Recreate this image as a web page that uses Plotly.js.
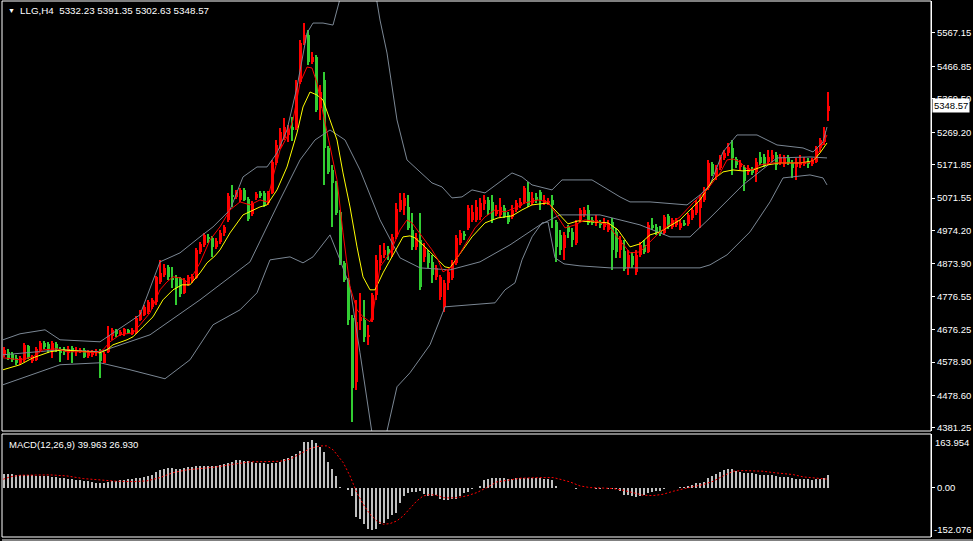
<!DOCTYPE html>
<html><head><meta charset="utf-8">
<script src="https://cdn.plot.ly/plotly-3.0.1.min.js"></script>
<style>html,body{margin:0;padding:0;background:#000;overflow:hidden}#chart{width:973px;height:541px}</style>
</head><body><div id="chart"></div>
<script>
// ---- candle data (LLG, H4) ----
const open=[4601,4610,4604,4592,4577,4586,4628,4583,4586,4616,
4637,4634,4613,4634,4619,4616,4607,4622,4610,4610,
4616,4598,4601,4607,4607,4577,4610,4658,4676,4661,
4664,4676,4664,4667,4706,4721,4730,4745,4760,4820,
4841,4865,4832,4835,4832,4787,4814,4823,4832,4910,
4931,4955,4952,4925,4940,4967,5006,5081,5075,5066,
5096,5069,5024,5072,5087,5087,5057,5087,5177,5225,
5252,5261,5285,5282,5420,5537,5561,5480,5495,5342,
5426,5222,5156,5117,5030,4877,4826,4712,4520,4703,
4706,4655,4706,4781,4877,4901,4919,4916,4955,5036,
5048,5045,4976,4925,4946,4895,4907,4880,4835,4775,
4745,4817,4832,4877,4937,4964,4982,5006,5006,5015,
5054,5066,5060,5024,5021,5042,5021,5015,5036,5048,
5060,5090,5057,5075,5090,5057,5057,5066,5000,4961,
4922,4985,4970,4937,5006,5021,5036,5006,4997,5000,
4985,4976,5000,4970,4916,4913,4862,4898,4850,4901,
4931,4910,4991,4985,4976,4967,5018,4985,4991,4982,
4997,4994,5012,5027,5042,5066,5102,5174,5135,5162,
5192,5207,5222,5189,5165,5162,5150,5156,5150,5195,
5195,5180,5189,5201,5177,5174,5192,5177,5165,5171,
5174,5183,5174,5180,5222,5240,5332.23];
const high=[4625,4619,4610,4601,4598,4637,4631,4601,4625,4643,
4643,4640,4643,4640,4625,4625,4628,4628,4625,4622,
4622,4616,4616,4619,4619,4610,4688,4682,4679,4676,
4682,4679,4682,4718,4736,4751,4766,4772,4838,4886,
4874,4871,4865,4841,4835,4832,4841,4844,4922,4940,
4967,4964,4958,4952,4976,4991,5087,5111,5096,5102,
5102,5075,5063,5090,5093,5093,5093,5186,5246,5282,
5312,5291,5315,5426,5546,5597,5576,5510,5501,5411,
5450,5228,5171,5123,5036,4883,4832,4721,4766,4787,
4766,4691,4787,4901,4931,4937,4928,4964,5057,5087,
5087,5081,5027,4967,5027,4937,4916,4901,4871,4841,
4826,4856,4886,4961,4976,4973,5051,5051,5066,5072,
5081,5075,5081,5051,5072,5051,5030,5051,5066,5072,
5108,5120,5090,5087,5096,5081,5072,5081,5006,4976,
4970,4991,4982,5006,5042,5045,5051,5015,5021,5006,
5012,5006,5012,4982,4958,4946,4916,4910,4916,4940,
4946,5000,5012,4994,4988,5021,5024,5012,5012,5006,
5006,5027,5042,5066,5081,5105,5186,5180,5171,5201,
5216,5237,5246,5195,5186,5171,5171,5165,5192,5210,
5204,5216,5216,5210,5204,5201,5201,5186,5192,5201,
5195,5192,5192,5228,5252,5285,5391.35];
const low=[4595,4586,4580,4571,4571,4580,4589,4577,4583,4610,
4619,4607,4592,4610,4580,4601,4586,4577,4598,4607,
4592,4592,4595,4598,4532,4577,4607,4646,4655,4658,
4658,4664,4661,4664,4703,4718,4724,4739,4751,4814,
4835,4826,4802,4751,4775,4784,4808,4817,4829,4904,
4925,4937,4895,4919,4934,4958,5000,5045,5069,5060,
5063,5003,5018,5066,5072,5045,5051,5084,5171,5219,
5246,5240,5243,5276,5414,5531,5471,5474,5330,5306,
5111,5144,4985,5021,4871,4820,4691,4400,4496,4676,
4640,4631,4700,4766,4856,4892,4886,4895,4949,5030,
5021,4976,4916,4916,4796,4880,4862,4817,4826,4766,
4730,4796,4826,4871,4931,4946,4976,5000,5000,5006,
5036,5021,4997,5018,5015,5012,4994,5009,5030,5042,
5054,5045,5051,5057,5036,5051,5051,4982,4880,4901,
4886,4952,4925,4931,5000,5015,4991,4991,4988,4982,
4976,4970,4856,4892,4892,4853,4841,4862,4841,4895,
4904,4907,4976,4961,4958,4961,4979,4979,4985,4976,
4988,4988,5006,5021,4982,5060,5096,5138,5126,5156,
5186,5198,5141,5162,5156,5093,5141,5141,5120,5171,
5165,5171,5180,5156,5171,5165,5171,5132,5126,5162,
5168,5162,5168,5177,5210,5231,5302.63];
const close=[4616,4592,4586,4577,4592,4631,4595,4595,4619,4637,
4625,4619,4637,4619,4607,4610,4619,4610,4616,4616,
4595,4610,4610,4613,4583,4604,4661,4676,4664,4670,
4679,4667,4676,4712,4730,4745,4760,4766,4835,4847,
4862,4835,4826,4802,4784,4826,4835,4838,4916,4934,
4961,4949,4925,4943,4967,4985,5078,5075,5090,5096,
5066,5009,5057,5084,5078,5051,5087,5180,5231,5270,
5285,5276,5276,5417,5537,5561,5480,5495,5336,5390,
5222,5150,5117,5027,4877,4826,4706,4502,4700,4715,
4655,4661,4781,4886,4901,4916,4907,4955,5039,5066,
5072,4982,4925,4952,4805,4925,4877,4841,4862,4835,
4817,4850,4877,4952,4967,4958,5042,5030,5045,5057,
5066,5036,5006,5036,5045,5015,5000,5036,5057,5060,
5102,5051,5072,5066,5066,5066,5063,5051,4925,4916,
4961,4970,4946,4997,5036,5036,4997,4997,5006,4991,
5000,4997,4916,4910,4946,4859,4901,4871,4901,4931,
4910,4991,4982,4970,4967,5015,4985,5006,5006,4997,
4991,5021,5036,5057,5072,5099,5177,5144,5162,5195,
5207,5225,5192,5171,5177,5123,5162,5147,5180,5177,
5171,5195,5201,5171,5195,5192,5177,5162,5180,5180,
5180,5174,5183,5222,5246,5273,5348.57];

// ---- MACD(12,26,9) ----
const macdHist=[42.4,42.4,42.4,40.3,39.3,40.3,40.3,39.3,38.2,38.2,
37.2,37.2,35.1,34.1,32.0,31.0,28.9,26.9,24.8,23.8,
21.7,20.7,18.6,16.5,14.5,16.5,18.6,20.7,21.7,23.8,
24.8,26.9,28.9,30.0,32.0,34.1,37.2,40.3,49.6,55.8,
59.9,63.0,63.0,57.8,59.9,63.0,65.1,66.1,68.2,68.2,
68.2,68.2,68.2,68.2,70.2,73.3,78.5,80.6,85.7,85.7,
83.7,83.7,80.6,78.5,78.5,76.4,75.4,76.4,78.5,80.6,
88.8,94.0,99.2,106.4,113.6,143.6,143.6,147.7,140.5,128.1,
111.6,81.6,59.9,37.2,4.1,0.5,-6.2,-24.8,-88.8,-97.1,
-112.6,-126.0,-130.2,-126.0,-112.6,-107.4,-95.0,-84.7,-76.4,-47.5,
-24.8,-14.5,-12.4,-12.4,-10.3,-19.6,-24.8,-24.8,-20.7,-35.1,
-37.2,-37.2,-33.1,-35.1,-24.8,-16.5,-12.4,-2.1,-0.5,6.2,
24.8,28.9,30.0,30.0,30.0,30.0,28.9,28.9,32.0,32.0,
32.0,32.0,32.0,31.0,30.0,28.9,26.9,24.8,6.2,1.2,
0.8,0.6,0.3,-2.1,-0.5,-1.0,-1.2,-1.5,-1.8,-2.1,
-1.5,-2.0,-2.5,-3.0,-10.3,-20.7,-20.7,-24.8,-28.9,-24.8,
-22.7,-16.5,-12.4,-10.3,-8.3,-2.1,-0.5,0.3,0.8,2.1,
4.1,6.2,10.3,14.5,16.5,18.6,32.0,37.2,43.4,49.6,
55.8,57.8,57.8,53.7,49.6,45.5,45.5,45.5,43.4,41.3,
41.3,39.3,39.3,37.2,35.1,34.1,33.1,31.0,28.9,28.9,
28.9,26.9,24.8,28.9,28.9,31.0,39.963];
const signalIdx=[-0.2,1.5,4,7.3,11.5,15.7,19.8,24,28.2,32.3,35.7,39,42.3,45.7,49,53.2,57.3,61.5,65.7,69,71.5,74,76.5,79,80.7,82.3,84.8,86.5,88.2,89.8,91.5,93.2,94.8,96.5,98.2,99.8,101.5,103.2,104.8,106.5,108.2,109.8,111.5,113.2,115.7,118.2,120.7,123.2,126.5,129,134,137.3,139,141.5,144,146.5,149,152.3,154.8,157.3,159.8,162.3,164.8,167.3,169.8,172.3,174.8,177.3,179.8,182.3,184.8,187.3,189.8,192.3,194.8,197.3,199.8,202.3,206];
const signalVal=[26.9,34.1,39.3,40.3,40.3,37.2,28.9,24.8,20.7,19.6,21.7,32.0,47.5,55.8,59.9,65.1,73.3,80.6,81.6,82.6,88.8,104.3,121.9,130.2,130.2,117.8,78.5,37.2,-14.5,-50.6,-81.6,-102.3,-112.6,-110.5,-102.3,-86.8,-63.0,-40.3,-24.8,-20.7,-22.7,-30.0,-31.0,-30.0,-24.8,-14.5,1.0,18.6,24.8,30.0,32.0,32.0,26.9,18.6,6.2,1.0,0,-2.1,-7.2,-14.5,-22.7,-23.8,-19.6,-10.3,-2.1,4.1,10.3,20.7,37.2,51.7,53.7,52.7,51.7,47.5,44.4,41.3,34.1,32.0,26.93];

// ---- moving averages (read at sample candles) ----
const maFastIdx=[-0.25,4,7.25,9.75,13.25,15.75,19.75,23.25,24.75,26.5,29,32.25,34,36.5,39,40.75,42.25,44,45.75,47.25,49,51.5,54,56.5,59,61.5,64,65.75,67.25,69,70.75,72.25,74,75.75,77,78.25,79.75,81.5,83.25,84.75,86.5,88.25,89.75,91.5,92.25,94,96.5,99,100.75,102,104.5,107,108.5,109.75,112,113.5,115.25,117.75,120.25,122.75,125.25,127.75,130.25,133.5,136,137.75,140.25,142.75,145.25,148.5,151,153.5,156.5,159,161.5,164,169,172.25,175.75,179,180.75,182.25,184,185.75,187,189,192.25,197.25,200.75,202.25,204,205.75];
const maFastVal=[4592,4586,4595,4616,4619,4610,4610,4607,4616,4640,4661,4667,4691,4727,4796,4820,4835,4832,4820,4841,4877,4946,4985,5036,5060,5051,5066,5060,5135,5216,5255,5306,5417,5465,5462,5417,5327,5225,5126,4967,4805,4736,4715,4700,4727,4865,4907,4976,5006,4997,4955,4916,4886,4850,4865,4895,4931,4982,5015,5036,5030,5042,5057,5066,5060,5027,4982,4991,5006,5000,4991,4952,4907,4910,4940,4970,5015,5057,5096,5147,5186,5189,5180,5159,5156,5171,5177,5177,5177,5183,5216,5261];
const maSlowIdx=[-0.25,4,7.25,11.5,14.75,19.75,24,25.75,27.25,30.75,32.25,34.75,37.25,39.75,42.25,44.5,46.5,49,50.75,52.75,54,56.5,59.75,64,65.75,68.25,70.75,73.25,74.75,76.5,78.25,79.75,81.5,83.25,84.75,86.5,88.25,89.75,91.5,92.75,94.75,96.5,98.25,99.75,101.5,102.75,105.25,107.75,110.25,111.5,113.5,117,120.25,123.5,127,129.5,132,136,137.25,139.5,141,143.5,147,151,153.5,156.5,159,161.5,164,169,174,177.25,179.75,182.25,184.75,187.25,190.75,194,199,202.25,204,205.75];
const maSlowVal=[4556,4571,4592,4610,4616,4610,4607,4616,4631,4646,4655,4685,4715,4766,4796,4811,4811,4847,4877,4898,4916,4967,5021,5045,5051,5096,5165,5267,5345,5390,5381,5366,5306,5246,5147,5045,4925,4835,4796,4796,4847,4886,4925,4955,4958,4952,4925,4895,4865,4862,4895,4955,4997,5012,5018,5036,5051,5057,5042,5012,4994,5003,5000,4997,4976,4925,4934,4961,4970,5006,5066,5126,5150,5156,5153,5156,5171,5177,5177,5183,5207,5237];

// ---- Bollinger bands (read at sample candles) ----
const bbUpIdx=[-0.25,4,10.25,14,24,27.75,34,39,44,49,52.25,56.5,59.75,63.25,65.75,68.25,70.75,73.25,75.75,77.25,79.75,82.25,85.25,89,92.75,94,95.75,98.25,100.75,104,107,109.5,112,114.5,117,120.25,123.5,127,129.5,132,137,139.5,147,150.25,154,156.5,161.5,170.75,174,176.5,179.75,183.25,188.25,193.25,199.75,202.25,204.75,205.75];
const bbUpVal=[4646,4664,4676,4646,4640,4670,4721,4880,4907,4955,4985,5036,5135,5165,5165,5207,5276,5405,5567,5597,5597,5591,5726,5786,5696,5606,5507,5306,5186,5150,5117,5105,5072,5075,5096,5087,5117,5147,5135,5111,5096,5126,5126,5102,5075,5060,5060,5051,5081,5111,5210,5261,5261,5231,5222,5210,5240,5285];
const bbMidIdx=[-0.25,14,24,36.5,49,61.5,69,74,77.75,81.5,85.25,89,94,99,104,111.5,119,126.5,134,139,149,159,166.5,171.5,176.5,184.75,193.25,201.5,205.75];
const bbMidVal=[4601,4616,4610,4661,4766,4880,5066,5186,5246,5276,5246,5156,5006,4892,4862,4856,4880,4931,4991,5021,5021,4991,4955,4955,5012,5111,5192,5195,5192];
const bbLowIdx=[-0.25,14,24,31.5,40.25,46.5,52.25,59,63.25,66.5,71.5,74.75,77.25,81.5,84,86.5,89,90.75,92.25,95.25,98.25,101.5,106.5,110.25,122.75,125.25,127.75,129.5,132,134.5,136,137.75,140,144,151.5,156.5,174,176.5,180.75,186.5,191.5,194.75,201.5,204.75,205.75];
const bbLowVal=[4511,4571,4577,4556,4529,4586,4691,4736,4787,4886,4895,4877,4895,4961,4886,4805,4607,4457,4346,4346,4505,4547,4631,4745,4757,4796,4817,4886,4955,4997,5000,4892,4874,4868,4862,4862,4862,4871,4901,4970,5060,5132,5141,5132,5111];

// ---- axis labels ----
const priceTicks=[5567.15,5466.85,5369.50,5269.20,5171.85,5071.55,4974.20,4873.90,4776.55,4676.25,4578.90,4478.60,4381.25];
const macdMax=163.954, macdMin=-152.076;
const symbol='LLG,H4';
const macdName='MACD(12,26,9)';

const idx=open.map((_,i)=>i);
const RED='#ff0000', GREEN='#32cd32', BAND='#7b8794';
const bull=idx.map(i=>close[i]>=open[i]);
const cColor=idx.map(i=>bull[i]?RED:GREEN);
const bodyBase=idx.map(i=>Math.min(open[i],close[i]));
const bodyLen=idx.map(i=>Math.abs(close[i]-open[i]));
const wickLen=idx.map(i=>high[i]-low[i]);

const FONT='Liberation Sans, Arial, sans-serif';
const traces=[
 {type:'scatter',mode:'lines',x:bbUpIdx,y:bbUpVal,line:{color:BAND,width:1},hoverinfo:'skip'},
 {type:'scatter',mode:'lines',x:bbMidIdx,y:bbMidVal,line:{color:BAND,width:1},hoverinfo:'skip'},
 {type:'scatter',mode:'lines',x:bbLowIdx,y:bbLowVal,line:{color:BAND,width:1},hoverinfo:'skip'},
 {type:'bar',x:idx,y:wickLen,base:low,width:0.28,marker:{color:cColor,line:{width:0}},hoverinfo:'skip'},
 {type:'bar',x:idx,y:bodyLen,base:bodyBase,width:0.75,marker:{color:cColor,line:{width:0}},hoverinfo:'skip'},
 {type:'scatter',mode:'lines',x:maSlowIdx,y:maSlowVal,line:{color:'#ffff00',width:1},hoverinfo:'skip'},
 {type:'scatter',mode:'lines',x:maFastIdx,y:maFastVal,line:{color:RED,width:1},hoverinfo:'skip'},
 {type:'bar',x:idx,y:macdHist,yaxis:'y2',width:0.3,marker:{color:'#c0c0c0',line:{width:0}},hoverinfo:'skip'},
 {type:'scatter',mode:'lines',x:signalIdx,y:signalVal,yaxis:'y2',line:{color:RED,width:1,dash:'2px,2px'},hoverinfo:'skip'}
];
const H=537, mainTop=1, mainBot=431, mTop=434, mBot=537;
const py=y=>(538-y)/H;
const last=close.length-1;
const fmt=v=>v.toFixed(2);
const layout={
 width:973,height:541,paper_bgcolor:'#000',plot_bgcolor:'#000',
 margin:{l:2,r:42,t:1,b:3},showlegend:false,barmode:'overlay',bargap:0,
 xaxis:{range:[-0.5,231.75],showgrid:false,zeroline:false,showticklabels:false,ticks:'',showline:false,fixedrange:true},
 yaxis:{domain:[py(mainBot),1],range:[4372.2,5663.2],side:'right',tickvals:priceTicks,ticktext:priceTicks.map(fmt),
   ticks:'outside',ticklen:3,tickcolor:'#fff',showline:true,linecolor:'#fff',linewidth:1,showgrid:false,zeroline:false,
   tickfont:{color:'#fff',family:FONT,size:9.5},fixedrange:true},
 yaxis2:{domain:[py(mBot),py(mTop)],range:[-152.076,167.05],side:'right',anchor:'x',tickvals:[0],ticktext:['0.00'],
   ticks:'outside',ticklen:3,tickcolor:'#fff',showline:true,linecolor:'#fff',linewidth:1,showgrid:false,zeroline:false,
   tickfont:{color:'#fff',family:FONT,size:9.5},fixedrange:true},
 shapes:[
  {type:'rect',xref:'paper',yref:'paper',x0:0,x1:1,y0:py(mainBot),y1:py(mainTop),line:{color:'#fff',width:1}},
  {type:'rect',xref:'paper',yref:'paper',x0:0,x1:1,y0:py(mBot),y1:py(mTop),line:{color:'#fff',width:1}},
  {type:'line',xref:'paper',yref:'paper',x0:0,x1:1.045,y0:py(540),y1:py(540),line:{color:'#fff',width:1}}
 ],
 annotations:[
  {xref:'paper',yref:'paper',x:0.0045,y:py(11),xanchor:'left',yanchor:'middle',showarrow:false,text:'▼',font:{color:'#fff',size:7,family:FONT}},
  {xref:'paper',yref:'paper',x:0.0172,y:py(11),xanchor:'left',yanchor:'middle',showarrow:false,
   text:symbol+'\u00a0\u00a0'+[open[last],high[last],low[last],close[last]].map(fmt).join(' '),font:{color:'#fff',size:9.8,family:FONT}},
  {xref:'paper',yref:'paper',x:0.0054,y:py(444),xanchor:'left',yanchor:'middle',showarrow:false,
   text:macdName+' '+macdHist[last].toFixed(3)+' '+signalVal[signalVal.length-1].toFixed(3),font:{color:'#fff',size:9.5,family:FONT}},
  {xref:'paper',yref:'y',x:1,xshift:1,y:close[last],xanchor:'left',yanchor:'middle',showarrow:false,text:fmt(close[last]),
   bgcolor:'#fff',borderpad:1,font:{color:'#000',size:9.5,family:FONT}},
  {xref:'paper',yref:'y2',x:1,xshift:2,y:macdMax,xanchor:'left',yanchor:'top',showarrow:false,text:macdMax.toFixed(3),font:{color:'#fff',size:9.5,family:FONT}},
  {xref:'paper',yref:'y2',x:1,xshift:1,y:macdMin,xanchor:'left',yanchor:'bottom',showarrow:false,text:macdMin.toFixed(3),font:{color:'#fff',size:9.5,family:FONT}}
 ]
};
Plotly.newPlot('chart',traces,layout,{staticPlot:true,displayModeBar:false});
</script></body></html>
